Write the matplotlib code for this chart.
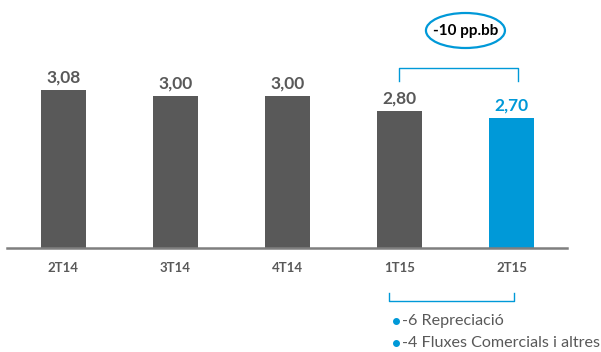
import matplotlib
matplotlib.use("Agg")
import matplotlib.pyplot as plt
from matplotlib.patches import Ellipse

categories = ["2T14", "3T14", "4T14", "1T15", "2T15"]
values = [3.08, 3.00, 3.00, 2.80, 2.70]
value_labels = ["3,08", "3,00", "3,00", "2,80", "2,70"]
highlight = [False, False, False, False, True]
bubble_text = "-10 pp.bb"
notes = ["-6 Repreciació", "-4 Fluxes Comercials i altres"]

GRAY = "#595959"
BLUE = "#0099D8"
plt.rcParams["font.family"] = ["Lato", "DejaVu Sans"]

fig = plt.figure(figsize=(6.01, 3.52), dpi=100)
W, H = 601, 352
base_px = 248
ax = fig.add_axes([7 / W, (H - base_px) / H, 560 / W, base_px / H])
ax.set_facecolor("none")

ppu = 73.7
y0 = 0.936
ax.set_ylim(y0, y0 + base_px / ppu)
ax.set_xlim(-0.504, 4.496)

x = list(range(len(categories)))
colors = [BLUE if h else GRAY for h in highlight]
bars = ax.bar(x, values, width=0.40, color=colors, zorder=2)

for xi, v, lab, c in zip(x, values, value_labels, colors):
    ax.annotate(lab, (xi, v), xytext=(0, 3), textcoords="offset points",
                ha="center", va="bottom", fontsize=12.5, fontweight="bold", color=c)

for s in ["top", "left", "right"]:
    ax.spines[s].set_visible(False)
ax.spines["bottom"].set_color("#7f7f7f")
ax.spines["bottom"].set_linewidth(1.8)
ax.set_yticks([])
ax.set_xticks(x)
ax.set_xticklabels(categories, fontsize=9.5, fontweight="bold", color=GRAY)
ax.tick_params(axis="x", length=0, pad=10)

def py(p):
    return y0 + (base_px - p) / ppu

def px(p):
    return (p - 63.5) / 112.0

# upper bracket
ax.plot([px(398.7), px(398.7), px(518), px(518)], [py(81), py(68), py(68), py(81)],
        color=BLUE, lw=1.0, clip_on=False)
# bubble
ell = Ellipse((px(465.5), py(30.5)), width=79 / 112.0, height=35 / ppu,
              facecolor="white", edgecolor=BLUE, lw=1.6, clip_on=False)
ax.add_patch(ell)
ax.text(px(465.5), py(30.5), bubble_text, ha="center", va="center",
        fontsize=11, fontweight="bold", color="black")

# lower bracket
ax.plot([px(389), px(389), px(514), px(514)], [py(293), py(301), py(301), py(293)],
        color=BLUE, lw=1.0, clip_on=False)

for i, note in enumerate(notes):
    yy = py(321 + 22 * i)
    ax.plot([px(396)], [yy], marker="o", ms=4, color=BLUE, clip_on=False)
    ax.text(px(402), yy, note, ha="left", va="center", fontsize=11.6, color=GRAY,
            clip_on=False)

fig.savefig("out.png", dpi=100)
